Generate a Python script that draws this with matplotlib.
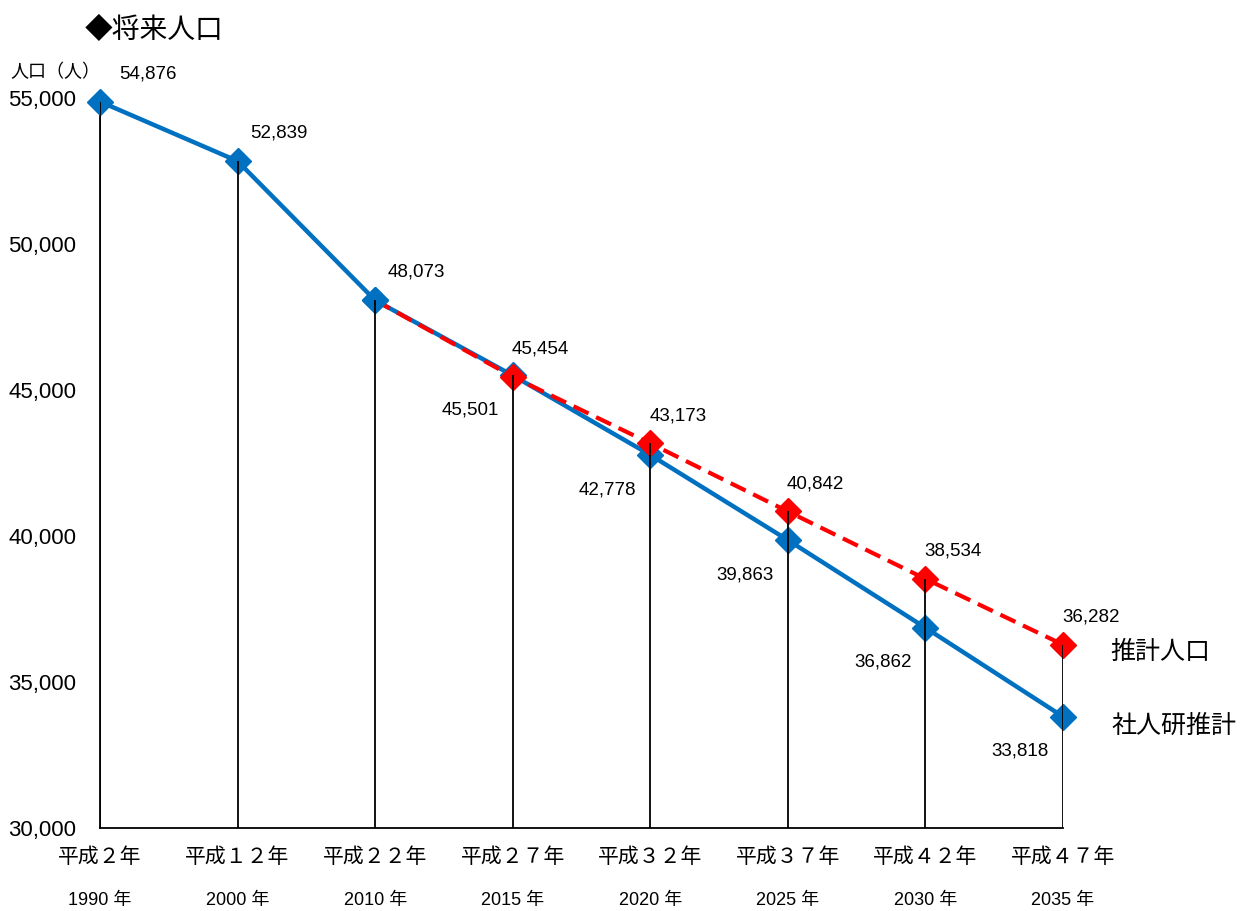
import matplotlib
matplotlib.use("Agg")
import matplotlib.pyplot as plt
import matplotlib.transforms as mtransforms
import numpy as np

plt.rcParams['font.family'] = ['Liberation Sans', 'Noto Sans CJK JP', 'DejaVu Sans']
CJK = ["Noto Sans CJK JP", "DejaVu Sans"]

# data
heisei_labels = ["平成２年", "平成１２年", "平成２２年", "平成２７年",
                 "平成３２年", "平成３７年", "平成４２年", "平成４７年"]
year_labels = ["1990 年", "2000 年", "2010 年", "2015 年",
               "2020 年", "2025 年", "2030 年", "2035 年"]
shajinken = [54876, 52839, 48073, 45501, 42778, 39863, 36862, 33818]
suikei_start = 2  # 推計人口 starts at 平成22年
suikei = [48073, 45454, 43173, 40842, 38534, 36282]

BLUE = "#0070C0"
RED = "#FF0000"

x = np.arange(len(heisei_labels))
xs = x[suikei_start:]

fig = plt.figure(figsize=(12.46, 9.11), dpi=100)
ax = fig.add_axes([0.0803, 0.0911, 0.853 - 0.0803, 0.8924 - 0.0911])

# drop lines from the highest point of each category
tops = list(shajinken)
for i, v in zip(xs, suikei):
    tops[i] = max(tops[i], v)
ax.vlines(x, 30000, tops, color="black", lw=1.3, zorder=10)

ax.plot(x, shajinken, color=BLUE, lw=3.2, marker="D", ms=13,
        mec=BLUE, zorder=3, clip_on=False)
ax.plot(xs, suikei, color=RED, lw=3, dashes=(4, 2), zorder=4, clip_on=False)
ax.plot(xs[1:], suikei[1:], ls="none", marker="D", ms=13, color=RED,
        zorder=5, clip_on=False)
ax.plot(xs[:1], suikei[:1], ls="none", marker="D", ms=13, color=BLUE,
        zorder=6, clip_on=False)

# data labels
for i, v in enumerate(shajinken):
    if i == 0:
        off = (14, 14)
    else:
        off = (9, 14)
    if i <= suikei_start:
        ax.annotate(f"{v:,}", (x[i], v), xytext=off, textcoords="offset points",
                    ha="left", va="bottom", fontsize=13.5)
    else:
        ax.annotate(f"{v:,}", (x[i], v), xytext=(-10, -25), textcoords="offset points",
                    ha="right", va="center", fontsize=13.5)
for i, v in zip(xs[1:], suikei[1:]):
    ax.annotate(f"{v:,}", (i, v), xytext=(20, 20), textcoords="offset points",
                ha="center", va="center", fontsize=13.5)

# series names at the right end
ax.annotate("推計人口", (xs[-1], suikei[-1]), xytext=(34, -5), textcoords="offset points",
            ha="left", va="center", fontsize=18, annotation_clip=False, family=CJK)
ax.annotate("社人研推計", (x[-1], shajinken[-1]), xytext=(35, -7), textcoords="offset points",
            ha="left", va="center", fontsize=18, annotation_clip=False, family=CJK)

ax.set_xlim(0, len(x) - 1)
ax.set_ylim(30000, 55000)
ax.set_yticks(np.arange(30000, 55001, 5000))
ax.set_yticklabels([f"{t:,}" for t in range(30000, 55001, 5000)], fontsize=16)
ax.set_xticks(x)
ax.set_xticklabels(heisei_labels, fontsize=15, family=CJK)
ax.tick_params(axis="x", length=0, pad=13)
ax.tick_params(axis="y", length=0, pad=17)
for s in ["top", "right"]:
    ax.spines[s].set_visible(False)
for s in ["left", "bottom"]:
    ax.spines[s].set_linewidth(1.3)

trans = mtransforms.blended_transform_factory(ax.transData, ax.transAxes)
for i, lab in enumerate(year_labels):
    ax.annotate(lab, (x[i], 0), xycoords=trans, xytext=(0, -52), textcoords="offset points",
                ha="center", va="center", fontsize=13, annotation_clip=False)

fig.text(85 / 1246, 1 - 30 / 911, "◆将来人口", fontsize=20, ha="left", va="center",
         family=CJK)
fig.text(10 / 1246, 1 - 72 / 911, "人口（人）", fontsize=13, ha="left", va="center",
         family=CJK)

fig.savefig("out.png", dpi=100)
